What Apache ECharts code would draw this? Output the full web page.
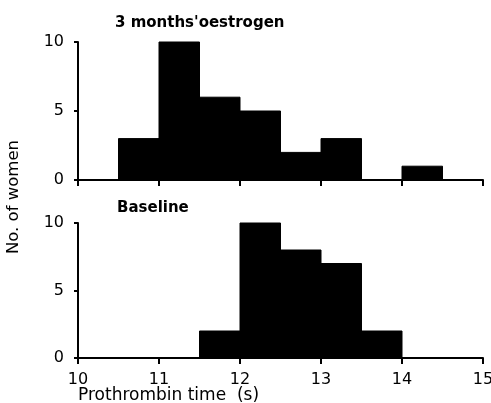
<!DOCTYPE html>
<html><head><meta charset="utf-8">
<script src="https://cdn.jsdelivr.net/npm/echarts@6/dist/echarts.min.js"></script>
<style>html,body{margin:0;padding:0;background:#fff}#c{width:491px;height:403px}</style>
</head><body><div id="c"></div>
<script>
const binStarts = [10.5, 11, 11.5, 12, 12.5, 13, 13.5, 14];
const binWidth = 0.5;
const oestrogenCounts = [3, 10, 6, 5, 2, 3, 0, 1];
const baselineCounts = [0, 0, 2, 10, 8, 7, 2, 0];
const xTicks = [10, 11, 12, 13, 14, 15];
const yTicks = [0, 5, 10];
const topTitle = "3 months'oestrogen";
const bottomTitle = "Baseline";
const xTitle = "Prothrombin time  (s)";
const yTitle = "No. of women";

const font = "DejaVu Sans";
const chart = echarts.init(document.getElementById('c'));

function rectRender(params, api) {
  const x0 = api.value(0), x1 = api.value(1), v = api.value(2);
  if (!v) return null;
  const p0 = api.coord([x0, v]);
  const p1 = api.coord([x1, 0]);
  return {type: 'rect', shape: {x: p0[0], y: p0[1], width: p1[0] - p0[0], height: p1[1] - p0[1]},
    style: {fill: '#000', stroke: '#000', lineWidth: 1}};
}
function toData(counts) {
  return binStarts.map((s, i) => [s, s + binWidth, counts[i]]);
}
const xAxisBase = {
  type: 'value', min: 10, max: 15, interval: 1,
  axisLine: {lineStyle: {color: '#000', width: 2}},
  axisTick: {show: true, length: 6, lineStyle: {color: '#000', width: 2}},
  splitLine: {show: false}
};
const yAxisBase = {
  type: 'value', min: 0, max: 10, interval: 5,
  axisLine: {show: true, lineStyle: {color: '#000', width: 2}},
  axisTick: {show: true, length: 4, lineStyle: {color: '#000', width: 2}},
  axisLabel: {color: '#000', fontFamily: font, fontSize: 16, margin: 14},
  splitLine: {show: false}
};
chart.setOption({
  animation: false,
  backgroundColor: '#fff',
  title: [
    {text: topTitle, left: 110, top: 11, textStyle: {fontFamily: font, fontSize: 15, fontWeight: 'bold', color: '#000'}},
    {text: bottomTitle, left: 112, top: 196, textStyle: {fontFamily: font, fontSize: 15, fontWeight: 'bold', color: '#000'}}
  ],
  grid: [
    {left: 78, right: 8, top: 42, height: 138, containLabel: false, outerBoundsMode: 'none'},
    {left: 78, right: 8, top: 223, height: 135, containLabel: false, outerBoundsMode: 'none'}
  ],
  xAxis: [
    Object.assign({}, xAxisBase, {gridIndex: 0, axisLabel: {show: false}}),
    Object.assign({}, xAxisBase, {gridIndex: 1,
      axisLabel: {color: '#000', fontFamily: font, fontSize: 16, margin: 14}})
  ],
  yAxis: [
    Object.assign({}, yAxisBase, {gridIndex: 0}),
    Object.assign({}, yAxisBase, {gridIndex: 1})
  ],
  graphic: [
    {type: 'text', left: 5, top: 140, rotation: Math.PI / 2,
      style: {text: yTitle, fontFamily: font, fontSize: 16.5, fill: '#000'}},
    {type: 'text', left: 78, top: 387,
      style: {text: xTitle, fontFamily: font, fontSize: 17, fill: '#000'}}
  ],
  series: [
    {type: 'custom', xAxisIndex: 0, yAxisIndex: 0, renderItem: rectRender, data: toData(oestrogenCounts), encode: {x: [0, 1], y: 2}},
    {type: 'custom', xAxisIndex: 1, yAxisIndex: 1, renderItem: rectRender, data: toData(baselineCounts), encode: {x: [0, 1], y: 2}}
  ]
});
</script></body></html>
